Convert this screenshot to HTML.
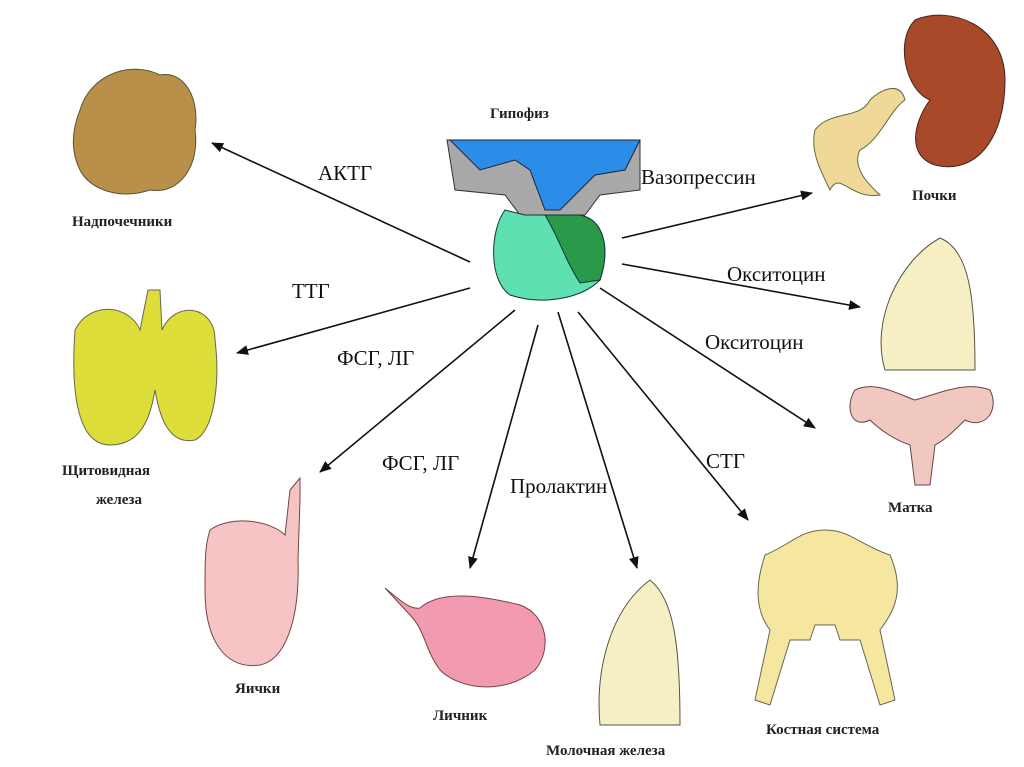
<!DOCTYPE html>
<html><head><meta charset="utf-8"><style>
body{margin:0;background:#fff}
svg{display:block}
.l{font-family:"Liberation Serif",serif;font-size:21px;fill:#111}
.b{font-family:"Liberation Serif",serif;font-size:15px;font-weight:bold;fill:#222}
</style></head><body>
<svg width="1024" height="767" viewBox="0 0 1024 767" xmlns="http://www.w3.org/2000/svg">
<defs><marker id="a" markerWidth="12" markerHeight="10" refX="11" refY="5" orient="auto" markerUnits="userSpaceOnUse"><path d="M0,0 L12,5 L0,10 z" fill="#111"/></marker></defs>
<rect width="1024" height="767" fill="#fff"/>
<!-- hypophysis -->
<path d="M447,140 L640,140 L640,190 L600,195 L585,215 L520,215 L505,195 L455,190 Z" fill="#a9a9a9" stroke="#333"/>
<path d="M450,140 L640,140 L625,170 L595,175 L560,210 L545,210 L530,170 L515,160 L480,170 Z" fill="#2a8de8" stroke="#223"/>
<path d="M505,210 C490,230 488,280 510,295 C540,305 580,300 600,280 C610,250 605,220 580,215 L525,215 Z" fill="#5ee0b0" stroke="#133"/>
<path d="M545,215 L580,215 C605,220 610,250 600,280 L580,283 C565,260 560,240 545,215 Z" fill="#2a9a4a" stroke="#133"/>
<text class="b" x="490" y="118">Гипофиз</text>
<!-- arrows -->
<g stroke="#111" stroke-width="1.6" marker-end="url(#a)">
<line x1="470" y1="262" x2="212" y2="143"/>
<line x1="470" y1="288" x2="237" y2="353"/>
<line x1="515" y1="310" x2="320" y2="472"/>
<line x1="538" y1="325" x2="470" y2="568"/>
<line x1="558" y1="312" x2="637" y2="568"/>
<line x1="578" y1="312" x2="748" y2="520"/>
<line x1="600" y1="288" x2="815" y2="428"/>
<line x1="622" y1="264" x2="860" y2="307"/>
<line x1="622" y1="238" x2="812" y2="193"/>
</g>
<text class="l" x="318" y="180">АКТГ</text>
<text class="l" x="292" y="298">ТТГ</text>
<text class="l" x="337" y="365">ФСГ, ЛГ</text>
<text class="l" x="382" y="470">ФСГ, ЛГ</text>
<text class="l" x="510" y="493">Пролактин</text>
<text class="l" x="706" y="468">СТГ</text>
<text class="l" x="727" y="281">Окситоцин</text>
<text class="l" x="705" y="349">Окситоцин</text>
<text class="l" x="641" y="184">Вазопрессин</text>
<!-- adrenal -->
<path d="M80,110 C90,75 130,60 160,75 C185,70 200,100 195,130 C200,165 180,195 150,190 C120,200 90,190 80,170 C70,150 72,130 80,110 Z" fill="#b8904a" stroke="#553"/>
<text class="b" x="72" y="226">Надпочечники</text>
<!-- kidney -->
<path d="M915,20 C950,5 1005,25 1005,80 C1005,140 975,175 935,165 C905,155 915,120 930,100 C905,90 895,40 915,20 Z" fill="#a84a2a" stroke="#422"/>
<path d="M815,130 C830,110 860,120 870,100 C880,90 900,80 905,100 C890,110 880,140 860,150 C850,170 875,190 880,195 C850,200 840,170 830,190 C820,170 810,150 815,130 Z" fill="#f0d898" stroke="#664"/>
<text class="b" x="912" y="200">Почки</text>
<!-- thyroid -->
<path d="M75,330 C90,300 130,305 140,330 L148,290 L160,290 L162,330 C175,300 215,305 215,340 C220,380 215,430 195,440 C170,445 160,420 155,390 C150,420 140,445 110,445 C80,445 70,400 75,330 Z" fill="#dede3a" stroke="#665"/>
<text class="b" x="62" y="475">Щитовидная</text>
<text class="b" x="96" y="504">железа</text>
<!-- breast top -->
<path d="M940,238 C970,250 975,300 975,370 L885,370 C870,320 900,260 940,238 Z" fill="#f7efc4" stroke="#554"/>
<!-- uterus -->
<path d="M855,390 C875,380 900,395 915,400 C935,395 965,380 990,390 C1000,410 985,430 965,420 C955,430 945,440 935,445 L930,485 L915,485 L910,445 C895,440 880,430 870,420 C850,430 845,405 855,390 Z" fill="#f0c8c0" stroke="#644"/>
<text class="b" x="888" y="512">Матка</text>
<!-- testis -->
<path d="M210,530 C230,515 270,520 285,535 L290,490 L300,478 L300,500 L298,560 C300,620 285,660 260,665 C225,670 205,640 205,590 C205,560 205,545 210,530 Z" fill="#f6c4c4" stroke="#744"/>
<text class="b" x="235" y="693">Яички</text>
<!-- ovary -->
<path d="M385,588 C400,600 410,610 420,608 C440,590 480,595 520,605 C548,615 552,650 535,670 C505,695 460,690 440,670 C425,650 425,630 410,615 Z" fill="#f19ab0" stroke="#744"/>
<text class="b" x="433" y="720">Личник</text>
<!-- mammary -->
<path d="M650,580 C675,600 680,650 680,725 L600,725 C595,670 610,610 650,580 Z" fill="#f7efc4" stroke="#554"/>
<text class="b" x="546" y="755">Молочная железа</text>
<!-- skeleton -->
<path d="M765,555 C790,545 800,530 825,530 C850,530 860,545 890,555 C905,590 895,610 880,630 L895,700 L880,705 L860,640 L840,640 L835,625 L815,625 L810,640 L790,640 L770,705 L755,700 L770,630 C755,610 755,585 765,555 Z" fill="#f6e7a0" stroke="#665"/>
<text class="b" x="766" y="734">Костная система</text>
</svg>
</body></html>
